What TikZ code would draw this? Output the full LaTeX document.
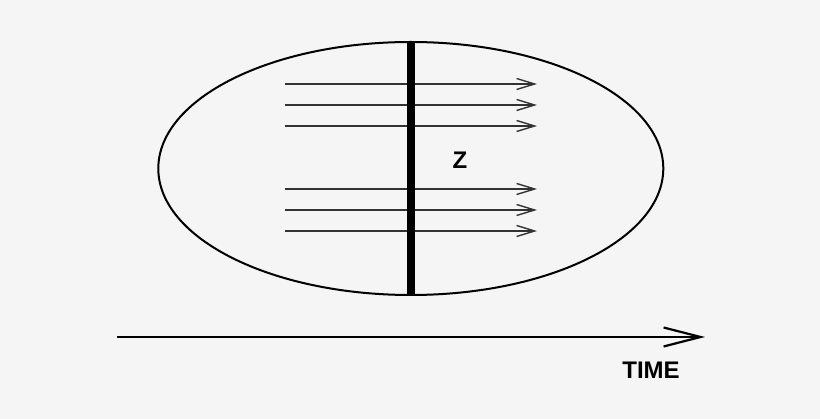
\documentclass[tikz,border=0pt]{standalone}
\usepackage{fontspec}
\setmainfont{Liberation Sans}
\usetikzlibrary{arrows.meta}
\begin{document}
\begin{tikzpicture}[x=1pt,y=-1pt,
  flow/.style={draw=black!80,line width=1.3pt,-{Straight Barb[length=18pt,width=11pt,line width=1.4pt]}},
  timeaxis/.style={draw=black,line width=2.2pt,-{Straight Barb[length=37pt,width=19pt,line width=2.2pt]}},
  lbl/.style={font=\bfseries\fontsize{24}{28}\selectfont,inner sep=0pt}]
\fill[white!96!black] (0,0) rectangle (820,419);
\useasboundingbox (0,0) rectangle (820,419);
\draw[line width=2pt] (410.8,168.5) ellipse [x radius=252.5, y radius=126.5];
\foreach \y [count=\i] in {84,105,126,189,210,231}{
  \coordinate (s\i) at (285,\y);
  \coordinate (e\i) at (537,\y);
  \draw[flow] (s\i) -- (e\i);
}
\coordinate (bt) at (411,42);
\coordinate (bb) at (411,295);
\draw[line width=8pt] (bt) -- (bb);
\node[lbl] (z) at (460,160) {Z};
\coordinate (t0) at (117,337);
\coordinate (t1) at (705,337);
\draw[timeaxis] (t0) -- (t1);
\node[lbl] (time) at (651,370) {TIME};
\end{tikzpicture}
\end{document}
